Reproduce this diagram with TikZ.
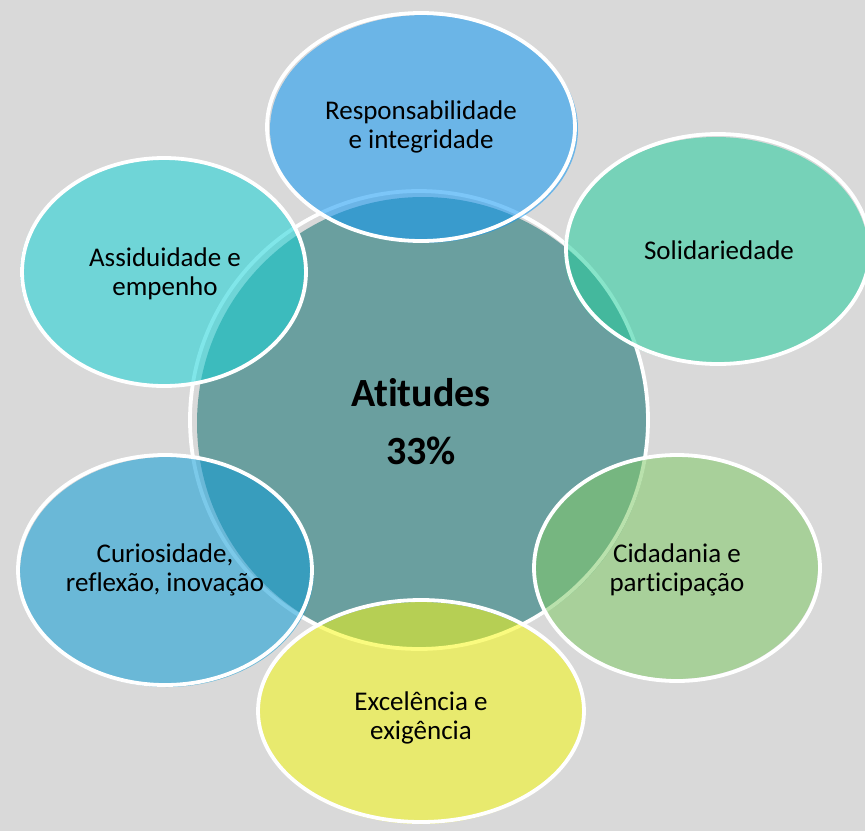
\documentclass[tikz,border=0pt]{standalone}
\usepackage{fontspec}
\setmainfont{Carlito}[Ligatures=NoCommon]
\begin{document}
\begin{tikzpicture}[x=1pt,y=-1pt,
  outline/.style={draw=white,line width=3.8pt},
  bubble/.style={fill opacity=0.55},
  lbl/.style={font=\fontsize{27}{29}\selectfont,align=center,text=black,inner sep=0pt}]
\definecolor{bg}{RGB}{217,217,217}
\definecolor{cCenter}{RGB}{106,159,159}
\definecolor{cTop}{RGB}{17,152,244}
\definecolor{cSol}{RGB}{37,206,157}
\definecolor{cAss}{RGB}{24,210,215}
\definecolor{cCur}{RGB}{15,157,215}
\definecolor{cCid}{RGB}{128,201,104}
\definecolor{cExc}{RGB}{246,248,23}
\fill[bg] (0,0) rectangle (865,831);
\useasboundingbox (0,0) rectangle (865,831);
% centre
\fill[cCenter] (423,423) circle[radius=226pt];
\draw[outline] (419,420) circle[radius=229pt];
% top
\fill[cTop,bubble] (424,129) ellipse[x radius=154pt,y radius=114pt];
\draw[outline] (421,127) ellipse[x radius=154pt,y radius=114pt];
% solidariedade
\fill[cSol,bubble] (716,251) ellipse[x radius=152pt,y radius=114pt];
\draw[outline] (718,249) ellipse[x radius=152pt,y radius=115pt];
% cidadania
\fill[cCid,bubble] (676,567) ellipse[x radius=142pt,y radius=112pt];
\draw[outline] (677,568) ellipse[x radius=143pt,y radius=113pt];
% excelencia
\fill[cExc,bubble] (421,713) ellipse[x radius=162pt,y radius=111pt];
\draw[outline] (421,711) ellipse[x radius=163pt,y radius=111pt];
% curiosidade
\fill[cCur,bubble] (167,572) ellipse[x radius=147pt,y radius=115pt];
\draw[outline] (165,570) ellipse[x radius=147pt,y radius=115pt];
% assiduidade
\fill[cAss,bubble] (162,272) ellipse[x radius=142pt,y radius=113pt];
\draw[outline] (164,272) ellipse[x radius=142pt,y radius=114pt];
% texts
\node[lbl] (tResp) at (421,127) {Responsabilidade\\e integridade};
\node[lbl] (tSol) at (719,250) {Solidariedade};
\node[lbl] (tAss) at (165,274) {Assiduidade e\\empenho};
\node[lbl] (tCur) at (165,570) {Curiosidade,\\reflexão, inovação};
\node[lbl] (tCid) at (677,570) {Cidadania e\\participação};
\node[lbl] (tExc) at (421,718) {Excelência e\\exigência};
\node[inner sep=0pt,font=\fontsize{40}{46}\selectfont\bfseries] (tAtt) at (421,393) {Atitudes};
\node[inner sep=0pt,font=\fontsize{40}{46}\selectfont\bfseries] (tPct) at (421,451) {33\%};
\end{tikzpicture}
\end{document}
